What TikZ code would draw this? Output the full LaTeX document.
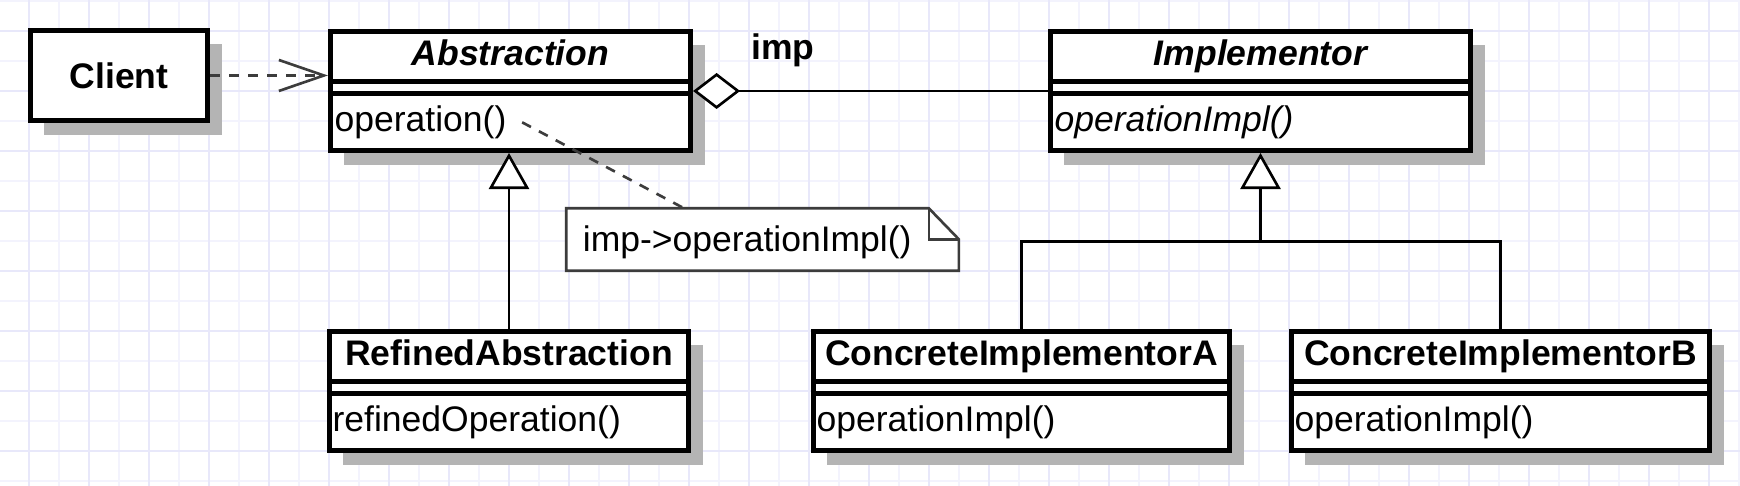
\documentclass[tikz,border=0pt]{standalone}
\usepackage{fontspec}
\setmainfont{Liberation Sans}
\usetikzlibrary{arrows.meta,shadows,calc,positioning}
\definecolor{GridMajor}{HTML}{E8E8FA}
\definecolor{GridMinor}{HTML}{F3F3FD}
\definecolor{ShadowGray}{HTML}{B4B4B4}
\definecolor{LinkGray}{HTML}{3C3C3C}
\newcommand{\umlfont}{\fontsize{10.1pt}{12.1pt}\selectfont}

\tikzset{
  classbox/.style={draw=black,line width=1.4pt,fill=white,inner sep=0pt,
    general shadow={fill=ShadowGray,shadow xshift=0.14cm,shadow yshift=-0.14cm}},
  compline/.style={draw=black,line width=1.25pt},
  classname/.style={font=\umlfont\bfseries,anchor=base,inner sep=0pt},
  classop/.style={font=\umlfont,anchor=base west,inner sep=0pt},
  link/.style={draw=black,line width=0.75pt},
  dashlink/.style={draw=LinkGray,line width=0.75pt,dash pattern=on 0.1cm off 0.09cm},
  noteline/.style={draw=LinkGray,line width=0.75pt},
}

\begin{document}
\begin{tikzpicture}[x=0.01cm,y=-0.01cm]
  \useasboundingbox[fill=white] (0,0) rectangle (1740,486);

  % grid
  \foreach \gx in {59,119,...,1739} \draw[GridMinor,line width=0.45pt] (\gx,0) -- (\gx,486);
  \foreach \gy in {1,61,...,481} \draw[GridMinor,line width=0.45pt] (0,\gy) -- (1740,\gy);
  \foreach \gx in {29,89,...,1709} \draw[GridMajor,line width=0.55pt] (\gx,0) -- (\gx,486);
  \foreach \gy in {31,91,...,451} \draw[GridMajor,line width=0.55pt] (0,\gy) -- (1740,\gy);

  % classes
  \node[classbox,font=\umlfont\bfseries,minimum width=1.77cm,minimum height=0.9cm] (client) at (119,75.5) {Client};

  \node[classbox,minimum width=3.6cm,minimum height=1.19cm] (abs) at (510.5,91) {};
  \node[classname,font=\umlfont\bfseries\itshape] (absname) at ($(abs.north)+(0,36.5)$) {Abstraction};
  \node[classop] (absop) at ($(abs.north west)+(6,102.5)$) {operation()};

  \node[classbox,minimum width=4.2cm,minimum height=1.19cm] (impl) at (1260.5,91) {};
  \node[classname,font=\umlfont\bfseries\itshape] (implname) at ($(impl.north)+(0,36.5)$) {Implementor};
  \node[classop,font=\umlfont\itshape] (implop) at ($(impl.north west)+(6,102.5)$) {operationImpl()};

  \node[classbox,minimum width=3.59cm,minimum height=1.19cm] (ra) at (509,391) {};
  \node[classname] (raname) at ($(ra.north)+(0,36.5)$) {RefinedAbstraction};
  \node[classop] (raop) at ($(ra.north west)+(5,102.5)$) {refinedOperation()};

  \node[classbox,minimum width=4.16cm,minimum height=1.19cm] (cia) at (1021.5,391) {};
  \node[classname] (cianame) at ($(cia.north)+(0,36.5)$) {ConcreteImplementorA};
  \node[classop] (ciaop) at ($(cia.north west)+(5,102.5)$) {operationImpl()};

  \node[classbox,minimum width=4.18cm,minimum height=1.19cm] (cib) at (1500.5,391) {};
  \node[classname] (cibname) at ($(cib.north)+(0,36.5)$) {ConcreteImplementorB};
  \node[classop] (cibop) at ($(cib.north west)+(5,102.5)$) {operationImpl()};

  \foreach \c in {abs,impl,ra,cia,cib} {
    \draw[compline] ($(\c.north west)+(0,52.5)$) -- ($(\c.north east)+(0,52.5)$);
    \draw[compline] ($(\c.north west)+(0,64.5)$) -- ($(\c.north east)+(0,64.5)$);
  }

  % note
  \node[minimum width=3.91cm,minimum height=0.61cm,inner sep=0pt] (note) at (762.5,239.5) {};
  \draw[noteline,fill=white] (note.south west) -- (note.north west) -- ($(note.north east)+(-30,0)$)
    -- ($(note.north east)+(0,31)$) -- (note.south east) -- cycle;
  \draw[noteline] ($(note.north east)+(-30,0)$) |- ($(note.north east)+(0,31)$);
  \node[classop] (notetext) at ($(note.north west)+(16,43)$) {imp->operationImpl()};

  % connectors
  \draw[dashlink,-{Straight Barb[length=0.45cm,width=0.31cm]}] (client.east) -- (client.east -| abs.west);
  \draw[link,{Diamond[fill=white,length=0.47cm,width=0.36cm]}-] (abs.east) -- (impl.west);
  \node[classname] (implabel) at (783,60) {imp};
  \draw[link,-{Triangle[fill=white,length=0.36cm,width=0.4cm]}] (ra.north) -- (ra.north |- abs.south);
  \coordinate (bus) at ($(impl.south)+(0,88.5)$);
  \draw[link,-{Triangle[fill=white,length=0.36cm,width=0.4cm]}] (bus) -- (impl.south);
  \draw[link] (cia.north) |- (bus) -| (cib.north);
  \draw[dashlink] ([xshift=0.15cm]absop.east) -- ($(note.north west)!0.3!(note.north east)$);
\end{tikzpicture}
\end{document}
